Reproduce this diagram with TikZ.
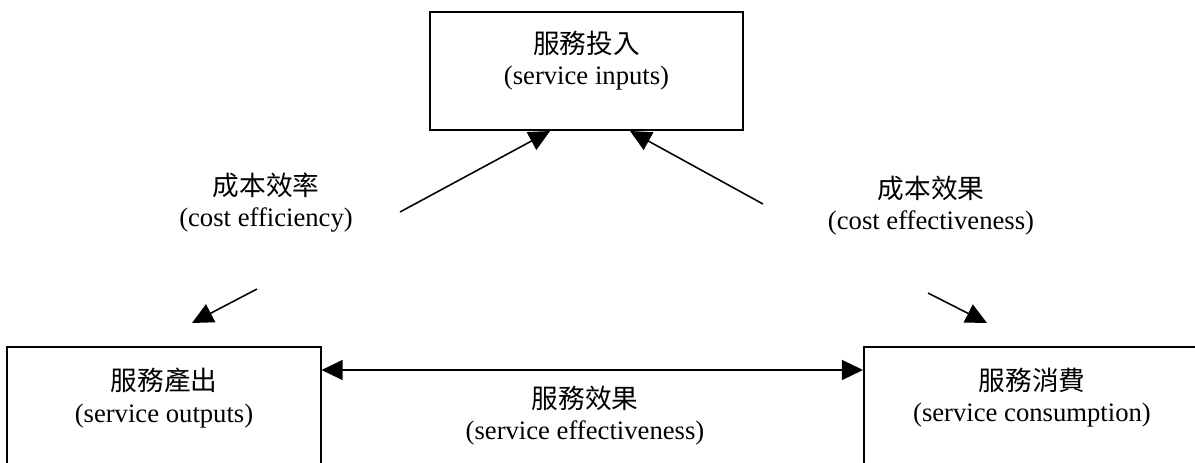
\documentclass[tikz,border=0pt]{standalone}
\usepackage{fontspec}
\setmainfont{Liberation Serif}
\newfontfamily\cjk{Noto Sans CJK TC}
\usetikzlibrary{arrows.meta}

\begin{document}
\begin{tikzpicture}[x=0.45pt,y=-0.45pt,
		>={Triangle[length=9.5pt,width=9pt]},
		box/.style={draw,line width=0.9pt,minimum width=140.9pt,minimum height=53.1pt},
		txt/.style={align=center,inner sep=0pt,font=\fontsize{12}{14}\selectfont},
		link/.style={line width=0.7pt}]
		\useasboundingbox (0,0) rectangle (1195,463);
		\clip (0,0) rectangle (1195,463);
		\path
			  ( 586.5, 71) node[box]                          (input)   {}
			  ( 164,  406) node[box]                          (output)  {}
			  (1032,  406) node[box,minimum width=151.2pt]    (consume) {}
			  ( 586.5, 61) node[txt] (inputtxt)   {{\cjk 服務投入}\\(service inputs)}
			  ( 164,  398) node[txt] (outputtxt)  {{\cjk 服務產出}\\(service outputs)}
			  (1032,  398) node[txt] (consumetxt) {{\cjk 服務消費}\\(service consumption)}
			  ( 266,  203) node[txt] (costeff)    {{\cjk 成本效率}\\(cost efficiency)}
			  ( 931,  206) node[txt] (costeffect) {{\cjk 成本效果}\\(cost effectiveness)}
			  ( 585,  416) node[txt] (serveff)    {{\cjk 服務效果}\\(service effectiveness)}
		;
		\coordinate (effup)     at (400,212);
		\coordinate (effdown)   at (257,289);
		\coordinate (efftip)    at (192,323);
		\coordinate (effectup)  at (763,204);
		\coordinate (effectdown) at (928,293);
		\coordinate (effecttip) at (987,323);
		\draw[->,link]  (effup)      -> ([xshift=-16.4pt]input.south);
		\draw[->,link]  (effdown)    -> (efftip);
		\draw[->,link]  (effectup)   -> ([xshift=19.6pt]input.south);
		\draw[->,link]  (effectdown) -> (effecttip);
		\draw[<->,link] ([yshift=-10.8pt]output.north east) -> ([yshift=-10.8pt]consume.north west);
	\end{tikzpicture}
\end{document}
